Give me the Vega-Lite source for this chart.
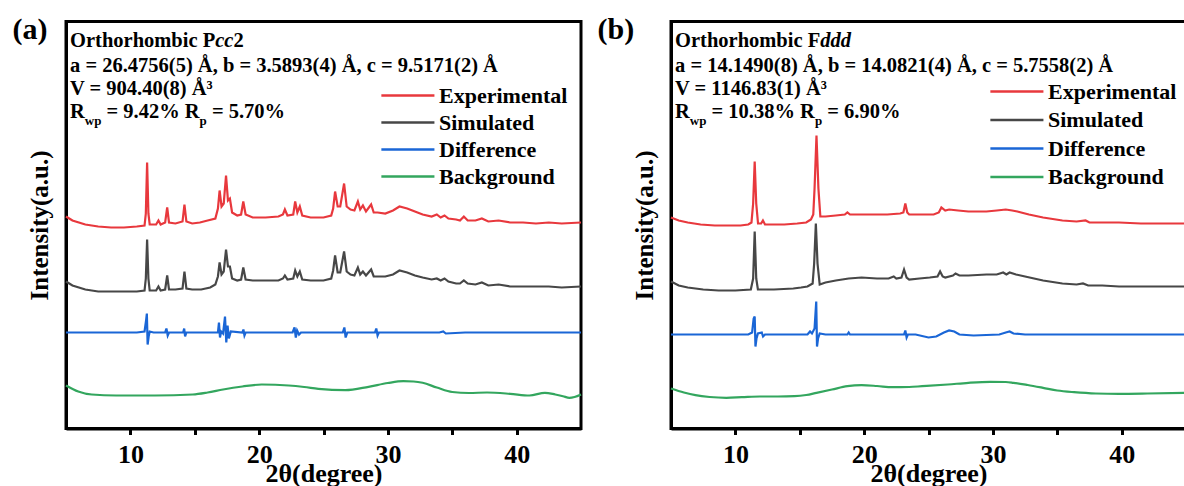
{
  "$schema": "https://vega.github.io/schema/vega-lite/v6.json",
  "padding": {"left": 10, "top": 12.5, "right": 0, "bottom": 0},
  "background": "white",
  "config": {
    "font": "Liberation Serif",
    "view": {"stroke": "black", "strokeWidth": 3},
    "legend": {
      "orient": "none", "title": null, "symbolType": "M-1,0H7", "symbolSize": 176, "symbolStrokeWidth": 2.5,
      "labelFont": "Liberation Serif", "labelFontSize": 22, "labelFontWeight": "bold", "labelColor": "black",
      "labelOffset": 40, "rowPadding": 5, "padding": 0, "labelLimit": 300
    }
  },
  "datasets": {
    "a": [
      {"x": 5.0, "y": 212, "s": "Experimental"}, {"x": 5.5, "y": 208, "s": "Experimental"}, {"x": 6.5, "y": 204, "s": "Experimental"}, {"x": 7.5, "y": 202, "s": "Experimental"}, {"x": 8.5, "y": 201, "s": "Experimental"}, {"x": 9.5, "y": 201, "s": "Experimental"}, {"x": 10.5, "y": 202, "s": "Experimental"}, {"x": 11.1, "y": 203, "s": "Experimental"}, {"x": 11.2, "y": 215, "s": "Experimental"}, {"x": 11.3, "y": 266, "s": "Experimental"}, {"x": 11.4, "y": 215, "s": "Experimental"}, {"x": 11.5, "y": 204, "s": "Experimental"}, {"x": 12.0, "y": 204, "s": "Experimental"}, {"x": 12.18, "y": 208, "s": "Experimental"}, {"x": 12.35, "y": 204, "s": "Experimental"}, {"x": 12.7, "y": 206, "s": "Experimental"}, {"x": 12.86, "y": 221, "s": "Experimental"}, {"x": 13.0, "y": 206, "s": "Experimental"}, {"x": 13.5, "y": 205, "s": "Experimental"}, {"x": 14.05, "y": 207, "s": "Experimental"}, {"x": 14.2, "y": 224, "s": "Experimental"}, {"x": 14.35, "y": 207, "s": "Experimental"}, {"x": 14.8, "y": 205, "s": "Experimental"}, {"x": 15.4, "y": 206, "s": "Experimental"}, {"x": 16.0, "y": 208, "s": "Experimental"}, {"x": 16.6, "y": 210, "s": "Experimental"}, {"x": 16.8, "y": 220, "s": "Experimental"}, {"x": 16.93, "y": 238, "s": "Experimental"}, {"x": 17.08, "y": 222, "s": "Experimental"}, {"x": 17.25, "y": 225, "s": "Experimental"}, {"x": 17.43, "y": 253, "s": "Experimental"}, {"x": 17.58, "y": 228, "s": "Experimental"}, {"x": 17.73, "y": 230, "s": "Experimental"}, {"x": 17.9, "y": 216, "s": "Experimental"}, {"x": 18.3, "y": 213, "s": "Experimental"}, {"x": 18.6, "y": 214, "s": "Experimental"}, {"x": 18.77, "y": 227, "s": "Experimental"}, {"x": 18.95, "y": 214, "s": "Experimental"}, {"x": 19.5, "y": 211, "s": "Experimental"}, {"x": 20.5, "y": 211, "s": "Experimental"}, {"x": 21.5, "y": 212, "s": "Experimental"}, {"x": 21.85, "y": 214, "s": "Experimental"}, {"x": 22.0, "y": 219, "s": "Experimental"}, {"x": 22.2, "y": 213, "s": "Experimental"}, {"x": 22.65, "y": 214, "s": "Experimental"}, {"x": 22.8, "y": 227, "s": "Experimental"}, {"x": 22.97, "y": 216, "s": "Experimental"}, {"x": 23.16, "y": 222, "s": "Experimental"}, {"x": 23.35, "y": 213, "s": "Experimental"}, {"x": 24.0, "y": 211, "s": "Experimental"}, {"x": 25.0, "y": 211, "s": "Experimental"}, {"x": 25.6, "y": 213, "s": "Experimental"}, {"x": 25.75, "y": 220, "s": "Experimental"}, {"x": 25.9, "y": 237, "s": "Experimental"}, {"x": 26.1, "y": 222, "s": "Experimental"}, {"x": 26.3, "y": 222, "s": "Experimental"}, {"x": 26.6, "y": 245, "s": "Experimental"}, {"x": 26.8, "y": 222, "s": "Experimental"}, {"x": 27.1, "y": 219, "s": "Experimental"}, {"x": 27.4, "y": 218, "s": "Experimental"}, {"x": 27.67, "y": 227, "s": "Experimental"}, {"x": 27.85, "y": 219, "s": "Experimental"}, {"x": 28.06, "y": 223, "s": "Experimental"}, {"x": 28.3, "y": 217, "s": "Experimental"}, {"x": 28.7, "y": 224, "s": "Experimental"}, {"x": 28.9, "y": 216, "s": "Experimental"}, {"x": 29.2, "y": 216, "s": "Experimental"}, {"x": 29.8, "y": 215, "s": "Experimental"}, {"x": 30.4, "y": 218, "s": "Experimental"}, {"x": 30.9, "y": 222, "s": "Experimental"}, {"x": 31.5, "y": 220, "s": "Experimental"}, {"x": 32.1, "y": 217, "s": "Experimental"}, {"x": 32.7, "y": 214, "s": "Experimental"}, {"x": 33.4, "y": 212, "s": "Experimental"}, {"x": 33.8, "y": 214, "s": "Experimental"}, {"x": 34.1, "y": 211, "s": "Experimental"}, {"x": 34.4, "y": 213, "s": "Experimental"}, {"x": 34.7, "y": 210, "s": "Experimental"}, {"x": 35.3, "y": 209, "s": "Experimental"}, {"x": 35.6, "y": 208, "s": "Experimental"}, {"x": 35.9, "y": 212, "s": "Experimental"}, {"x": 36.2, "y": 208, "s": "Experimental"}, {"x": 36.8, "y": 208, "s": "Experimental"}, {"x": 37.3, "y": 210, "s": "Experimental"}, {"x": 37.8, "y": 207, "s": "Experimental"}, {"x": 38.6, "y": 208, "s": "Experimental"}, {"x": 39.5, "y": 206, "s": "Experimental"}, {"x": 40.5, "y": 206, "s": "Experimental"}, {"x": 41.5, "y": 205, "s": "Experimental"}, {"x": 42.5, "y": 206, "s": "Experimental"}, {"x": 43.5, "y": 205, "s": "Experimental"}, {"x": 45.0, "y": 206, "s": "Experimental"},
      {"x": 5.0, "y": 147, "s": "Simulated"}, {"x": 5.5, "y": 143, "s": "Simulated"}, {"x": 6.5, "y": 139, "s": "Simulated"}, {"x": 7.5, "y": 137, "s": "Simulated"}, {"x": 8.5, "y": 137, "s": "Simulated"}, {"x": 9.5, "y": 137, "s": "Simulated"}, {"x": 10.5, "y": 137, "s": "Simulated"}, {"x": 11.1, "y": 138, "s": "Simulated"}, {"x": 11.2, "y": 150, "s": "Simulated"}, {"x": 11.3, "y": 189, "s": "Simulated"}, {"x": 11.4, "y": 150, "s": "Simulated"}, {"x": 11.5, "y": 138, "s": "Simulated"}, {"x": 12.0, "y": 138, "s": "Simulated"}, {"x": 12.18, "y": 142, "s": "Simulated"}, {"x": 12.35, "y": 138, "s": "Simulated"}, {"x": 12.7, "y": 139, "s": "Simulated"}, {"x": 12.86, "y": 153, "s": "Simulated"}, {"x": 13.0, "y": 139, "s": "Simulated"}, {"x": 13.5, "y": 139, "s": "Simulated"}, {"x": 14.05, "y": 140, "s": "Simulated"}, {"x": 14.2, "y": 157, "s": "Simulated"}, {"x": 14.35, "y": 140, "s": "Simulated"}, {"x": 14.8, "y": 139, "s": "Simulated"}, {"x": 15.5, "y": 139, "s": "Simulated"}, {"x": 16.2, "y": 141, "s": "Simulated"}, {"x": 16.6, "y": 144, "s": "Simulated"}, {"x": 16.8, "y": 152, "s": "Simulated"}, {"x": 16.93, "y": 166, "s": "Simulated"}, {"x": 17.08, "y": 154, "s": "Simulated"}, {"x": 17.25, "y": 157, "s": "Simulated"}, {"x": 17.43, "y": 179, "s": "Simulated"}, {"x": 17.58, "y": 162, "s": "Simulated"}, {"x": 17.73, "y": 162, "s": "Simulated"}, {"x": 17.9, "y": 150, "s": "Simulated"}, {"x": 18.3, "y": 148, "s": "Simulated"}, {"x": 18.6, "y": 149, "s": "Simulated"}, {"x": 18.77, "y": 161, "s": "Simulated"}, {"x": 18.95, "y": 149, "s": "Simulated"}, {"x": 19.5, "y": 148, "s": "Simulated"}, {"x": 20.5, "y": 148, "s": "Simulated"}, {"x": 21.5, "y": 148, "s": "Simulated"}, {"x": 21.85, "y": 150, "s": "Simulated"}, {"x": 22.0, "y": 153, "s": "Simulated"}, {"x": 22.2, "y": 149, "s": "Simulated"}, {"x": 22.65, "y": 150, "s": "Simulated"}, {"x": 22.8, "y": 158, "s": "Simulated"}, {"x": 22.97, "y": 152, "s": "Simulated"}, {"x": 23.16, "y": 157, "s": "Simulated"}, {"x": 23.35, "y": 149, "s": "Simulated"}, {"x": 24.0, "y": 148, "s": "Simulated"}, {"x": 25.0, "y": 148, "s": "Simulated"}, {"x": 25.6, "y": 150, "s": "Simulated"}, {"x": 25.75, "y": 158, "s": "Simulated"}, {"x": 25.9, "y": 173, "s": "Simulated"}, {"x": 26.1, "y": 156, "s": "Simulated"}, {"x": 26.3, "y": 156, "s": "Simulated"}, {"x": 26.6, "y": 177, "s": "Simulated"}, {"x": 26.8, "y": 157, "s": "Simulated"}, {"x": 27.1, "y": 154, "s": "Simulated"}, {"x": 27.4, "y": 153, "s": "Simulated"}, {"x": 27.67, "y": 161, "s": "Simulated"}, {"x": 27.85, "y": 154, "s": "Simulated"}, {"x": 28.06, "y": 157, "s": "Simulated"}, {"x": 28.3, "y": 153, "s": "Simulated"}, {"x": 28.7, "y": 159, "s": "Simulated"}, {"x": 28.9, "y": 152, "s": "Simulated"}, {"x": 29.2, "y": 152, "s": "Simulated"}, {"x": 29.8, "y": 152, "s": "Simulated"}, {"x": 30.4, "y": 154, "s": "Simulated"}, {"x": 30.9, "y": 158, "s": "Simulated"}, {"x": 31.5, "y": 156, "s": "Simulated"}, {"x": 32.1, "y": 153, "s": "Simulated"}, {"x": 32.7, "y": 151, "s": "Simulated"}, {"x": 33.4, "y": 149, "s": "Simulated"}, {"x": 33.8, "y": 150, "s": "Simulated"}, {"x": 34.1, "y": 148, "s": "Simulated"}, {"x": 34.4, "y": 150, "s": "Simulated"}, {"x": 34.7, "y": 147, "s": "Simulated"}, {"x": 35.3, "y": 145, "s": "Simulated"}, {"x": 35.6, "y": 145, "s": "Simulated"}, {"x": 35.9, "y": 148, "s": "Simulated"}, {"x": 36.2, "y": 145, "s": "Simulated"}, {"x": 36.8, "y": 144, "s": "Simulated"}, {"x": 37.3, "y": 146, "s": "Simulated"}, {"x": 37.8, "y": 143, "s": "Simulated"}, {"x": 38.6, "y": 144, "s": "Simulated"}, {"x": 39.5, "y": 142, "s": "Simulated"}, {"x": 40.5, "y": 142, "s": "Simulated"}, {"x": 41.5, "y": 142, "s": "Simulated"}, {"x": 42.5, "y": 142, "s": "Simulated"}, {"x": 43.5, "y": 141, "s": "Simulated"}, {"x": 45.0, "y": 142, "s": "Simulated"},
      {"x": 5.0, "y": 96, "s": "Difference"}, {"x": 8.0, "y": 96, "s": "Difference"}, {"x": 10.5, "y": 96, "s": "Difference"}, {"x": 11.1, "y": 97, "s": "Difference"}, {"x": 11.22, "y": 108, "s": "Difference"}, {"x": 11.28, "y": 115, "s": "Difference"}, {"x": 11.34, "y": 84, "s": "Difference"}, {"x": 11.42, "y": 92, "s": "Difference"}, {"x": 11.5, "y": 97, "s": "Difference"}, {"x": 11.8, "y": 96, "s": "Difference"}, {"x": 12.7, "y": 96, "s": "Difference"}, {"x": 12.8, "y": 100, "s": "Difference"}, {"x": 12.9, "y": 93, "s": "Difference"}, {"x": 13.0, "y": 96, "s": "Difference"}, {"x": 14.1, "y": 96, "s": "Difference"}, {"x": 14.18, "y": 100, "s": "Difference"}, {"x": 14.25, "y": 92, "s": "Difference"}, {"x": 14.35, "y": 96, "s": "Difference"}, {"x": 15.5, "y": 96, "s": "Difference"}, {"x": 16.8, "y": 96, "s": "Difference"}, {"x": 16.88, "y": 106, "s": "Difference"}, {"x": 16.96, "y": 91, "s": "Difference"}, {"x": 17.05, "y": 97, "s": "Difference"}, {"x": 17.2, "y": 95, "s": "Difference"}, {"x": 17.35, "y": 112, "s": "Difference"}, {"x": 17.45, "y": 86, "s": "Difference"}, {"x": 17.55, "y": 103, "s": "Difference"}, {"x": 17.65, "y": 90, "s": "Difference"}, {"x": 17.8, "y": 97, "s": "Difference"}, {"x": 18.7, "y": 96, "s": "Difference"}, {"x": 18.78, "y": 99, "s": "Difference"}, {"x": 18.86, "y": 93, "s": "Difference"}, {"x": 18.95, "y": 96, "s": "Difference"}, {"x": 22.6, "y": 96, "s": "Difference"}, {"x": 22.75, "y": 101, "s": "Difference"}, {"x": 22.85, "y": 91, "s": "Difference"}, {"x": 22.95, "y": 98, "s": "Difference"}, {"x": 23.1, "y": 94, "s": "Difference"}, {"x": 23.25, "y": 96, "s": "Difference"}, {"x": 26.5, "y": 96, "s": "Difference"}, {"x": 26.62, "y": 101, "s": "Difference"}, {"x": 26.72, "y": 91, "s": "Difference"}, {"x": 26.85, "y": 96, "s": "Difference"}, {"x": 29.0, "y": 96, "s": "Difference"}, {"x": 29.1, "y": 100, "s": "Difference"}, {"x": 29.2, "y": 93, "s": "Difference"}, {"x": 29.3, "y": 96, "s": "Difference"}, {"x": 34.0, "y": 96, "s": "Difference"}, {"x": 34.3, "y": 97, "s": "Difference"}, {"x": 34.5, "y": 95, "s": "Difference"}, {"x": 36.0, "y": 96, "s": "Difference"}, {"x": 45.0, "y": 96, "s": "Difference"},
      {"x": 5.0, "y": 43, "s": "Background"}, {"x": 5.95, "y": 37, "s": "Background"}, {"x": 7.0, "y": 34, "s": "Background"}, {"x": 8.9, "y": 33, "s": "Background"}, {"x": 11.9, "y": 33, "s": "Background"}, {"x": 14.85, "y": 34, "s": "Background"}, {"x": 16.0, "y": 36, "s": "Background"}, {"x": 17.2, "y": 39, "s": "Background"}, {"x": 18.7, "y": 42, "s": "Background"}, {"x": 20.2, "y": 44, "s": "Background"}, {"x": 22.3, "y": 43, "s": "Background"}, {"x": 23.5, "y": 41.5, "s": "Background"}, {"x": 24.6, "y": 39.7, "s": "Background"}, {"x": 26.7, "y": 38.3, "s": "Background"}, {"x": 28.5, "y": 41.7, "s": "Background"}, {"x": 30.0, "y": 45.5, "s": "Background"}, {"x": 31.2, "y": 47.3, "s": "Background"}, {"x": 32.0, "y": 47, "s": "Background"}, {"x": 32.7, "y": 45.7, "s": "Background"}, {"x": 33.8, "y": 41, "s": "Background"}, {"x": 35.0, "y": 36.5, "s": "Background"}, {"x": 36.3, "y": 35.5, "s": "Background"}, {"x": 37.7, "y": 36, "s": "Background"}, {"x": 39.5, "y": 34.7, "s": "Background"}, {"x": 41.0, "y": 33, "s": "Background"}, {"x": 42.2, "y": 35.7, "s": "Background"}, {"x": 43.0, "y": 34, "s": "Background"}, {"x": 43.6, "y": 32.3, "s": "Background"}, {"x": 44.1, "y": 30.7, "s": "Background"}, {"x": 44.5, "y": 31.5, "s": "Background"}, {"x": 45.0, "y": 34, "s": "Background"}
    ],
    "b": [
      {"x": 5.0, "y": 211, "s": "Experimental"}, {"x": 5.6, "y": 208, "s": "Experimental"}, {"x": 6.3, "y": 206, "s": "Experimental"}, {"x": 7.3, "y": 204, "s": "Experimental"}, {"x": 8.4, "y": 203, "s": "Experimental"}, {"x": 9.5, "y": 203, "s": "Experimental"}, {"x": 10.4, "y": 203, "s": "Experimental"}, {"x": 11.0, "y": 204, "s": "Experimental"}, {"x": 11.25, "y": 206, "s": "Experimental"}, {"x": 11.38, "y": 225, "s": "Experimental"}, {"x": 11.5, "y": 267, "s": "Experimental"}, {"x": 11.62, "y": 225, "s": "Experimental"}, {"x": 11.76, "y": 205, "s": "Experimental"}, {"x": 12.0, "y": 205, "s": "Experimental"}, {"x": 12.14, "y": 208, "s": "Experimental"}, {"x": 12.3, "y": 204, "s": "Experimental"}, {"x": 12.8, "y": 204, "s": "Experimental"}, {"x": 13.8, "y": 204, "s": "Experimental"}, {"x": 14.8, "y": 205, "s": "Experimental"}, {"x": 15.5, "y": 206, "s": "Experimental"}, {"x": 15.87, "y": 209, "s": "Experimental"}, {"x": 16.05, "y": 214, "s": "Experimental"}, {"x": 16.15, "y": 240, "s": "Experimental"}, {"x": 16.3, "y": 293, "s": "Experimental"}, {"x": 16.45, "y": 240, "s": "Experimental"}, {"x": 16.6, "y": 212, "s": "Experimental"}, {"x": 17.0, "y": 212, "s": "Experimental"}, {"x": 17.8, "y": 213, "s": "Experimental"}, {"x": 18.5, "y": 214, "s": "Experimental"}, {"x": 18.7, "y": 216, "s": "Experimental"}, {"x": 18.9, "y": 214, "s": "Experimental"}, {"x": 19.8, "y": 214, "s": "Experimental"}, {"x": 20.7, "y": 214, "s": "Experimental"}, {"x": 21.8, "y": 214, "s": "Experimental"}, {"x": 22.8, "y": 215, "s": "Experimental"}, {"x": 23.05, "y": 216, "s": "Experimental"}, {"x": 23.2, "y": 225, "s": "Experimental"}, {"x": 23.35, "y": 216, "s": "Experimental"}, {"x": 23.5, "y": 214, "s": "Experimental"}, {"x": 24.5, "y": 214, "s": "Experimental"}, {"x": 25.4, "y": 214, "s": "Experimental"}, {"x": 25.8, "y": 216, "s": "Experimental"}, {"x": 26.0, "y": 221, "s": "Experimental"}, {"x": 26.3, "y": 218, "s": "Experimental"}, {"x": 26.6, "y": 219, "s": "Experimental"}, {"x": 27.3, "y": 218, "s": "Experimental"}, {"x": 28.1, "y": 217, "s": "Experimental"}, {"x": 29.5, "y": 217, "s": "Experimental"}, {"x": 30.3, "y": 218, "s": "Experimental"}, {"x": 31.0, "y": 219, "s": "Experimental"}, {"x": 31.5, "y": 218, "s": "Experimental"}, {"x": 31.9, "y": 217, "s": "Experimental"}, {"x": 32.8, "y": 214, "s": "Experimental"}, {"x": 33.9, "y": 211, "s": "Experimental"}, {"x": 35.4, "y": 208, "s": "Experimental"}, {"x": 36.5, "y": 207, "s": "Experimental"}, {"x": 37.2, "y": 208, "s": "Experimental"}, {"x": 37.5, "y": 206, "s": "Experimental"}, {"x": 38.5, "y": 206, "s": "Experimental"}, {"x": 39.8, "y": 206, "s": "Experimental"}, {"x": 41.5, "y": 205, "s": "Experimental"}, {"x": 43.0, "y": 205, "s": "Experimental"}, {"x": 45.0, "y": 205, "s": "Experimental"},
      {"x": 5.0, "y": 147, "s": "Simulated"}, {"x": 5.6, "y": 143, "s": "Simulated"}, {"x": 6.3, "y": 141, "s": "Simulated"}, {"x": 7.5, "y": 139, "s": "Simulated"}, {"x": 8.7, "y": 138, "s": "Simulated"}, {"x": 10.0, "y": 138, "s": "Simulated"}, {"x": 11.2, "y": 139, "s": "Simulated"}, {"x": 11.38, "y": 150, "s": "Simulated"}, {"x": 11.5, "y": 197, "s": "Simulated"}, {"x": 11.62, "y": 150, "s": "Simulated"}, {"x": 11.75, "y": 139, "s": "Simulated"}, {"x": 13.0, "y": 139, "s": "Simulated"}, {"x": 14.5, "y": 140, "s": "Simulated"}, {"x": 15.1, "y": 141, "s": "Simulated"}, {"x": 15.6, "y": 142, "s": "Simulated"}, {"x": 16.0, "y": 145, "s": "Simulated"}, {"x": 16.12, "y": 165, "s": "Simulated"}, {"x": 16.25, "y": 205, "s": "Simulated"}, {"x": 16.38, "y": 165, "s": "Simulated"}, {"x": 16.55, "y": 144, "s": "Simulated"}, {"x": 17.0, "y": 146, "s": "Simulated"}, {"x": 17.8, "y": 148, "s": "Simulated"}, {"x": 18.8, "y": 150, "s": "Simulated"}, {"x": 19.8, "y": 151, "s": "Simulated"}, {"x": 21.0, "y": 150, "s": "Simulated"}, {"x": 21.9, "y": 150, "s": "Simulated"}, {"x": 22.3, "y": 152, "s": "Simulated"}, {"x": 22.5, "y": 150, "s": "Simulated"}, {"x": 22.9, "y": 151, "s": "Simulated"}, {"x": 23.1, "y": 159, "s": "Simulated"}, {"x": 23.3, "y": 151, "s": "Simulated"}, {"x": 23.5, "y": 149, "s": "Simulated"}, {"x": 24.3, "y": 150, "s": "Simulated"}, {"x": 25.1, "y": 151, "s": "Simulated"}, {"x": 25.7, "y": 152, "s": "Simulated"}, {"x": 25.9, "y": 157, "s": "Simulated"}, {"x": 26.1, "y": 152, "s": "Simulated"}, {"x": 26.3, "y": 151, "s": "Simulated"}, {"x": 26.9, "y": 153, "s": "Simulated"}, {"x": 27.1, "y": 155, "s": "Simulated"}, {"x": 27.4, "y": 153, "s": "Simulated"}, {"x": 28.1, "y": 153, "s": "Simulated"}, {"x": 29.5, "y": 154, "s": "Simulated"}, {"x": 30.3, "y": 154, "s": "Simulated"}, {"x": 30.8, "y": 156, "s": "Simulated"}, {"x": 31.05, "y": 154, "s": "Simulated"}, {"x": 31.3, "y": 156, "s": "Simulated"}, {"x": 31.8, "y": 154, "s": "Simulated"}, {"x": 32.5, "y": 152, "s": "Simulated"}, {"x": 33.2, "y": 150, "s": "Simulated"}, {"x": 33.9, "y": 148, "s": "Simulated"}, {"x": 35.4, "y": 145, "s": "Simulated"}, {"x": 36.5, "y": 144, "s": "Simulated"}, {"x": 37.0, "y": 145, "s": "Simulated"}, {"x": 37.4, "y": 143, "s": "Simulated"}, {"x": 38.5, "y": 143, "s": "Simulated"}, {"x": 39.8, "y": 142, "s": "Simulated"}, {"x": 42.0, "y": 142, "s": "Simulated"}, {"x": 45.0, "y": 142, "s": "Simulated"},
      {"x": 5.0, "y": 94, "s": "Difference"}, {"x": 8.0, "y": 94, "s": "Difference"}, {"x": 11.0, "y": 94, "s": "Difference"}, {"x": 11.3, "y": 96, "s": "Difference"}, {"x": 11.42, "y": 110, "s": "Difference"}, {"x": 11.5, "y": 112, "s": "Difference"}, {"x": 11.56, "y": 82, "s": "Difference"}, {"x": 11.64, "y": 90, "s": "Difference"}, {"x": 11.75, "y": 95, "s": "Difference"}, {"x": 12.05, "y": 96, "s": "Difference"}, {"x": 12.15, "y": 92, "s": "Difference"}, {"x": 12.3, "y": 94, "s": "Difference"}, {"x": 15.6, "y": 94, "s": "Difference"}, {"x": 15.8, "y": 97, "s": "Difference"}, {"x": 15.95, "y": 95, "s": "Difference"}, {"x": 16.15, "y": 100, "s": "Difference"}, {"x": 16.28, "y": 127, "s": "Difference"}, {"x": 16.34, "y": 82, "s": "Difference"}, {"x": 16.42, "y": 90, "s": "Difference"}, {"x": 16.55, "y": 95, "s": "Difference"}, {"x": 17.0, "y": 94, "s": "Difference"}, {"x": 18.7, "y": 94, "s": "Difference"}, {"x": 18.8, "y": 96, "s": "Difference"}, {"x": 18.9, "y": 94, "s": "Difference"}, {"x": 21.0, "y": 94, "s": "Difference"}, {"x": 23.1, "y": 94, "s": "Difference"}, {"x": 23.2, "y": 98, "s": "Difference"}, {"x": 23.3, "y": 91, "s": "Difference"}, {"x": 23.4, "y": 94, "s": "Difference"}, {"x": 24.0, "y": 94, "s": "Difference"}, {"x": 25.0, "y": 91, "s": "Difference"}, {"x": 25.6, "y": 92, "s": "Difference"}, {"x": 26.2, "y": 96, "s": "Difference"}, {"x": 26.6, "y": 98, "s": "Difference"}, {"x": 27.0, "y": 97, "s": "Difference"}, {"x": 27.4, "y": 94, "s": "Difference"}, {"x": 28.5, "y": 93, "s": "Difference"}, {"x": 30.5, "y": 94, "s": "Difference"}, {"x": 31.0, "y": 96, "s": "Difference"}, {"x": 31.3, "y": 97, "s": "Difference"}, {"x": 31.6, "y": 95, "s": "Difference"}, {"x": 32.5, "y": 94, "s": "Difference"}, {"x": 45.0, "y": 94, "s": "Difference"},
      {"x": 5.0, "y": 40, "s": "Background"}, {"x": 6.0, "y": 36, "s": "Background"}, {"x": 6.9, "y": 33.3, "s": "Background"}, {"x": 8.0, "y": 31.5, "s": "Background"}, {"x": 9.3, "y": 30.7, "s": "Background"}, {"x": 10.5, "y": 31.3, "s": "Background"}, {"x": 11.9, "y": 32, "s": "Background"}, {"x": 13.3, "y": 32, "s": "Background"}, {"x": 14.6, "y": 32.3, "s": "Background"}, {"x": 15.5, "y": 33.5, "s": "Background"}, {"x": 16.3, "y": 35.7, "s": "Background"}, {"x": 17.5, "y": 39, "s": "Background"}, {"x": 18.7, "y": 42.3, "s": "Background"}, {"x": 19.8, "y": 43.3, "s": "Background"}, {"x": 21.0, "y": 42.5, "s": "Background"}, {"x": 22.2, "y": 41.3, "s": "Background"}, {"x": 23.5, "y": 41.5, "s": "Background"}, {"x": 24.5, "y": 42.3, "s": "Background"}, {"x": 26.5, "y": 44, "s": "Background"}, {"x": 28.1, "y": 45.7, "s": "Background"}, {"x": 29.8, "y": 46.7, "s": "Background"}, {"x": 31.0, "y": 46.5, "s": "Background"}, {"x": 31.6, "y": 45.7, "s": "Background"}, {"x": 32.7, "y": 43.5, "s": "Background"}, {"x": 33.9, "y": 40.7, "s": "Background"}, {"x": 35.0, "y": 38, "s": "Background"}, {"x": 36.3, "y": 36.3, "s": "Background"}, {"x": 38.0, "y": 35, "s": "Background"}, {"x": 39.8, "y": 34.7, "s": "Background"}, {"x": 42.0, "y": 35, "s": "Background"}, {"x": 45.0, "y": 35.7, "s": "Background"}
    ],
    "ta": [
      {"x": 5.311, "y": 382, "t": "Orthorhombic P", "k": "n"},
      {"x": 16.589, "y": 382, "t": "cc", "k": "i"},
      {"x": 18.002, "y": 382, "t": "2", "k": "n"},
      {"x": 5.311, "y": 357, "t": "a = 26.4756(5) Å, b = 3.5893(4) Å, c = 9.5171(2) Å", "k": "n"},
      {"x": 5.311, "y": 334, "t": "V = 904.40(8) Å³", "k": "n"},
      {"x": 5.311, "y": 311, "t": "R", "k": "n"},
      {"x": 6.46, "y": 304, "t": "wp", "k": "s"},
      {"x": 8.146, "y": 311, "t": "= 9.42% R", "k": "n"},
      {"x": 15.377, "y": 304, "t": "p", "k": "s"},
      {"x": 16.332, "y": 311, "t": "= 5.70%", "k": "n"}
    ],
    "tb": [
      {"x": 5.311, "y": 382, "t": "Orthorhombic F", "k": "n"},
      {"x": 16.589, "y": 382, "t": "ddd", "k": "i"},
      {"x": 5.311, "y": 357, "t": "a = 14.1490(8) Å, b = 14.0821(4) Å, c = 5.7558(2) Å", "k": "n"},
      {"x": 5.311, "y": 334, "t": "V = 1146.83(1) Å³", "k": "n"},
      {"x": 5.311, "y": 311, "t": "R", "k": "n"},
      {"x": 6.46, "y": 304, "t": "wp", "k": "s"},
      {"x": 8.146, "y": 311, "t": "= 10.38% R", "k": "n"},
      {"x": 16.177, "y": 304, "t": "p", "k": "s"},
      {"x": 17.132, "y": 311, "t": "= 6.90%", "k": "n"}
    ]
  },
  "spacing": 8,
  "resolve": {"scale": {"color": "independent"}, "legend": {"color": "independent"}},
  "hconcat": [
    {
      "width": 515, "height": 407,
      "resolve": {"axis": {"x": "independent", "y": "independent"}},
      "layer": [
        {
          "data": {"name": "a"},
          "transform": [{"filter": "datum.s !== 'Background'"}],
          "mark": {"type": "line", "strokeWidth": 2.2},
          "encoding": {
            "x": {"field": "x", "type": "quantitative", "scale": {"domain": [5, 45], "nice": false, "zero": false},
              "axis": {"title": "2θ(degree)", "values": [10, 15, 20, 25, 30, 35, 40], "labelExpr": "datum.value % 10 === 0 ? datum.label : ''",
                "grid": false, "domainWidth": 3, "domainColor": "black", "tickWidth": 3, "tickSize": 6, "tickColor": "black",
                "labelFont": "Liberation Serif", "labelFontSize": 26, "labelFontWeight": "bold", "labelColor": "black", "labelPadding": 7, "labelFlush": false,
                "titleFont": "Liberation Serif", "titleFontSize": 26, "titleFontWeight": "bold", "titleColor": "black", "titlePadding": -7}},
            "y": {"field": "y", "type": "quantitative", "scale": {"domain": [0, 407], "nice": false, "zero": false},
              "axis": {"title": "Intensity(a.u.)", "ticks": false, "labels": false, "grid": false, "domainWidth": 3, "domainColor": "black",
                "titleFont": "Liberation Serif", "titleFontSize": 25, "titleFontWeight": "bold", "titleColor": "black", "titlePadding": 14}},
            "color": {"field": "s", "type": "nominal", "scale": {"domain": ["Experimental", "Simulated", "Difference", "Background"], "range": ["#E8383D", "#474747", "#1A66D6", "#33A65E"]}, "legend": {"legendX": 311, "legendY": 63}}
          }
        },
        {
          "data": {"name": "a"},
          "transform": [{"filter": "datum.s === 'Background'"}],
          "mark": {"type": "line", "strokeWidth": 2.2, "interpolate": "monotone"},
          "encoding": {
            "x": {"field": "x", "type": "quantitative", "scale": {"domain": [5, 45], "nice": false, "zero": false},
              "axis": {"orient": "top", "domain": false, "labels": false, "ticks": false, "grid": false,
                "title": "(a)", "titleX": -54, "titleY": -7, "titleAlign": "left", "titleBaseline": "top", "titleAngle": 0,
                "titleFont": "Liberation Serif", "titleFontSize": 30, "titleFontWeight": "bold", "titleColor": "black"}},
            "y": {"field": "y", "type": "quantitative", "scale": {"domain": [0, 407], "nice": false, "zero": false}, "axis": null},
            "color": {"field": "s", "type": "nominal", "scale": {"domain": ["Experimental", "Simulated", "Difference", "Background"], "range": ["#E8383D", "#474747", "#1A66D6", "#33A65E"]}}
          }
        },
        {
          "data": {"name": "ta"},
          "transform": [{"filter": "datum.k === 'n'"}],
          "mark": {"type": "text", "align": "left", "baseline": "alphabetic", "font": "Liberation Serif", "fontWeight": "bold", "fontSize": 20.5, "color": "black"},
          "encoding": {
            "x": {"field": "x", "type": "quantitative", "scale": {"domain": [5, 45], "nice": false, "zero": false}, "axis": null},
            "y": {"field": "y", "type": "quantitative", "scale": {"domain": [0, 407], "nice": false, "zero": false}, "axis": null},
            "text": {"field": "t"}
          }
        },
        {
          "data": {"name": "ta"},
          "transform": [{"filter": "datum.k === 'i'"}],
          "mark": {"type": "text", "align": "left", "baseline": "alphabetic", "font": "Liberation Serif", "fontWeight": "bold", "fontStyle": "italic", "fontSize": 20.5, "color": "black"},
          "encoding": {
            "x": {"field": "x", "type": "quantitative", "scale": {"domain": [5, 45], "nice": false, "zero": false}, "axis": null},
            "y": {"field": "y", "type": "quantitative", "scale": {"domain": [0, 407], "nice": false, "zero": false}, "axis": null},
            "text": {"field": "t"}
          }
        },
        {
          "data": {"name": "ta"},
          "transform": [{"filter": "datum.k === 's'"}],
          "mark": {"type": "text", "align": "left", "baseline": "alphabetic", "font": "Liberation Serif", "fontWeight": "bold", "fontSize": 13, "color": "black"},
          "encoding": {
            "x": {"field": "x", "type": "quantitative", "scale": {"domain": [5, 45], "nice": false, "zero": false}, "axis": null},
            "y": {"field": "y", "type": "quantitative", "scale": {"domain": [0, 407], "nice": false, "zero": false}, "axis": null},
            "text": {"field": "t"}
          }
        }
      ]
    },
    {
      "width": 515, "height": 407,
      "resolve": {"axis": {"x": "independent", "y": "independent"}},
      "layer": [
        {
          "data": {"name": "b"},
          "transform": [{"filter": "datum.s !== 'Background'"}],
          "mark": {"type": "line", "strokeWidth": 2.2},
          "encoding": {
            "x": {"field": "x", "type": "quantitative", "scale": {"domain": [5, 45], "nice": false, "zero": false},
              "axis": {"title": "2θ(degree)", "values": [10, 15, 20, 25, 30, 35, 40], "labelExpr": "datum.value % 10 === 0 ? datum.label : ''",
                "grid": false, "domainWidth": 3, "domainColor": "black", "tickWidth": 3, "tickSize": 6, "tickColor": "black",
                "labelFont": "Liberation Serif", "labelFontSize": 26, "labelFontWeight": "bold", "labelColor": "black", "labelPadding": 7, "labelFlush": false,
                "titleFont": "Liberation Serif", "titleFontSize": 26, "titleFontWeight": "bold", "titleColor": "black", "titlePadding": -7}},
            "y": {"field": "y", "type": "quantitative", "scale": {"domain": [0, 407], "nice": false, "zero": false},
              "axis": {"title": "Intensity(a.u.)", "ticks": false, "labels": false, "grid": false, "domainWidth": 3, "domainColor": "black",
                "titleFont": "Liberation Serif", "titleFontSize": 25, "titleFontWeight": "bold", "titleColor": "black", "titlePadding": 14}},
            "color": {"field": "s", "type": "nominal", "scale": {"domain": ["Experimental", "Simulated", "Difference", "Background"], "range": ["#E8383D", "#474747", "#1A66D6", "#33A65E"]}, "legend": {"legendX": 315, "legendY": 59, "rowPadding": 6.5}}
          }
        },
        {
          "data": {"name": "b"},
          "transform": [{"filter": "datum.s === 'Background'"}],
          "mark": {"type": "line", "strokeWidth": 2.2, "interpolate": "monotone"},
          "encoding": {
            "x": {"field": "x", "type": "quantitative", "scale": {"domain": [5, 45], "nice": false, "zero": false},
              "axis": {"orient": "top", "domain": false, "labels": false, "ticks": false, "grid": false,
                "title": "(b)", "titleX": -74, "titleY": -7, "titleAlign": "left", "titleBaseline": "top", "titleAngle": 0,
                "titleFont": "Liberation Serif", "titleFontSize": 30, "titleFontWeight": "bold", "titleColor": "black"}},
            "y": {"field": "y", "type": "quantitative", "scale": {"domain": [0, 407], "nice": false, "zero": false}, "axis": null},
            "color": {"field": "s", "type": "nominal", "scale": {"domain": ["Experimental", "Simulated", "Difference", "Background"], "range": ["#E8383D", "#474747", "#1A66D6", "#33A65E"]}}
          }
        },
        {
          "data": {"name": "tb"},
          "transform": [{"filter": "datum.k === 'n'"}],
          "mark": {"type": "text", "align": "left", "baseline": "alphabetic", "font": "Liberation Serif", "fontWeight": "bold", "fontSize": 20.5, "color": "black"},
          "encoding": {
            "x": {"field": "x", "type": "quantitative", "scale": {"domain": [5, 45], "nice": false, "zero": false}, "axis": null},
            "y": {"field": "y", "type": "quantitative", "scale": {"domain": [0, 407], "nice": false, "zero": false}, "axis": null},
            "text": {"field": "t"}
          }
        },
        {
          "data": {"name": "tb"},
          "transform": [{"filter": "datum.k === 'i'"}],
          "mark": {"type": "text", "align": "left", "baseline": "alphabetic", "font": "Liberation Serif", "fontWeight": "bold", "fontStyle": "italic", "fontSize": 20.5, "color": "black"},
          "encoding": {
            "x": {"field": "x", "type": "quantitative", "scale": {"domain": [5, 45], "nice": false, "zero": false}, "axis": null},
            "y": {"field": "y", "type": "quantitative", "scale": {"domain": [0, 407], "nice": false, "zero": false}, "axis": null},
            "text": {"field": "t"}
          }
        },
        {
          "data": {"name": "tb"},
          "transform": [{"filter": "datum.k === 's'"}],
          "mark": {"type": "text", "align": "left", "baseline": "alphabetic", "font": "Liberation Serif", "fontWeight": "bold", "fontSize": 13, "color": "black"},
          "encoding": {
            "x": {"field": "x", "type": "quantitative", "scale": {"domain": [5, 45], "nice": false, "zero": false}, "axis": null},
            "y": {"field": "y", "type": "quantitative", "scale": {"domain": [0, 407], "nice": false, "zero": false}, "axis": null},
            "text": {"field": "t"}
          }
        }
      ]
    }
  ]
}
